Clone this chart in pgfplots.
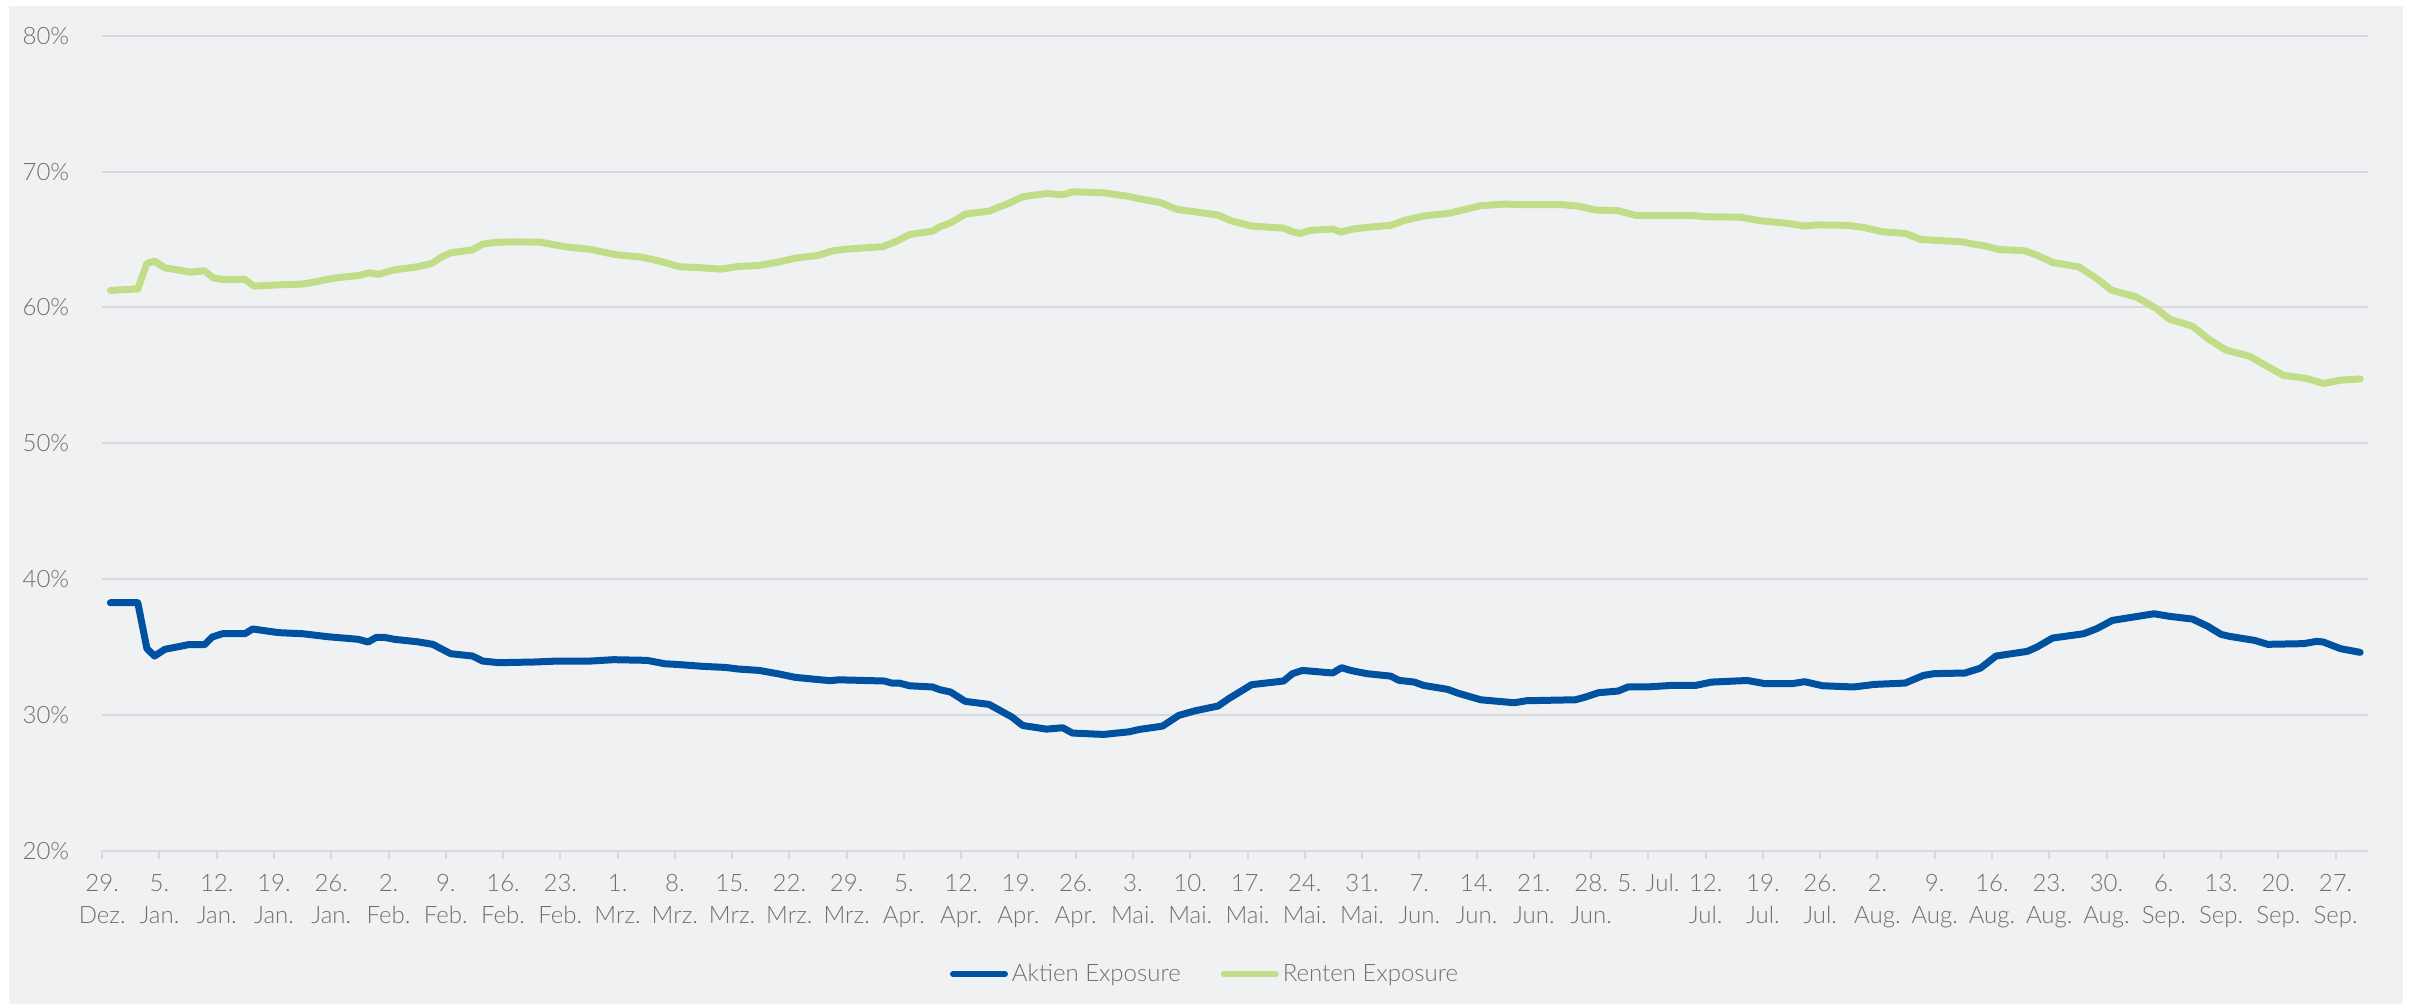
\documentclass[border=0pt]{standalone}
\usepackage{pgfplots}
\pgfplotsset{compat=1.18}
\usepackage{pgfplotstable}
\usepackage{fontspec}
\setmainfont{Lato}[UprightFont={* Light}]
\definecolor{bg}{RGB}{240,241,243}
\definecolor{gridgray}{RGB}{216,217,220}
\definecolor{txtgray}{RGB}{112,112,112}
\definecolor{aktien}{RGB}{0,82,160}
\definecolor{renten}{RGB}{194,221,136}

\pgfplotstableread{
day val
1 61.25
4.35 61.37
5.47 63.24
6.4 63.41
7.65 62.92
10.77 62.6
12.5 62.7
13.57 62.18
14.7 62.06
17.44 62.06
18.56 61.57
21.68 61.67
24.5 61.72
25.4 61.81
28.5 62.18
31.3 62.35
32.6 62.55
33.8 62.45
35.7 62.77
38.5 62.99
40.3 63.24
41.5 63.73
42.6 64.02
45.25 64.24
46.5 64.66
47.9 64.78
49.7 64.83
53.5 64.81
56.6 64.47
59.7 64.27
62.8 63.88
66.0 63.7
68.5 63.36
70.6 62.99
72.8 62.94
75.6 62.82
77.8 63.02
80.3 63.09
82.8 63.36
84.7 63.63
87.5 63.83
89.3 64.17
90.9 64.29
95.4 64.47
97.1 64.88
98.7 65.37
101.5 65.62
102.4 65.94
103.7 66.23
105.5 66.87
108.4 67.09
110.8 67.66
112.5 68.15
115.5 68.39
117.4 68.29
118.6 68.51
122.4 68.44
125.2 68.2
126.8 68.0
129.4 67.71
131.4 67.21
133.6 67.04
136.4 66.8
138.0 66.38
140.5 65.99
144.4 65.84
145.5 65.57
146.4 65.45
147.6 65.67
150.4 65.77
151.4 65.55
152.9 65.77
154.8 65.91
157.5 66.04
159.2 66.41
161.7 66.75
164.5 66.92
166.3 67.17
168.5 67.49
171.6 67.61
173.5 67.56
178.5 67.56
180.4 67.46
182.6 67.17
185.3 67.12
187.5 66.77
194.5 66.75
196.3 66.67
200.2 66.65
202.7 66.38
206.2 66.18
208.1 65.99
209.6 66.08
213.4 66.04
215.3 65.89
217.6 65.57
220.4 65.45
222.3 65.0
227.4 64.83
228.3 64.71
229.9 64.56
231.8 64.27
235.0 64.17
236.5 63.85
238.4 63.31
241.6 62.99
243.8 62.13
245.6 61.27
248.6 60.78
251.1 59.92
252.7 59.14
255.5 58.62
257.4 57.71
259.6 56.86
262.5 56.41
264.4 55.75
266.6 55.01
269.5 54.77
271.5 54.4
273.6 54.65
276 54.74
}\renten

\pgfplotstableread{
day val
1 38.27
4.35 38.27
5.47 34.89
6.4 34.35
7.65 34.84
10.5 35.18
12.5 35.18
13.45 35.75
14.7 35.99
17.44 35.99
18.4 36.34
21.55 36.07
24.5 35.99
27.6 35.77
31.3 35.58
32.5 35.38
33.5 35.72
34.5 35.72
35.7 35.58
38.5 35.4
40.4 35.21
42.6 34.52
45.25 34.35
46.5 33.98
48.5 33.86
52.9 33.91
55.7 33.98
59.7 33.98
62.5 34.08
66.6 34.03
68.76 33.78
70.3 33.73
73.4 33.59
76.2 33.51
77.8 33.39
80.3 33.29
82.8 33.02
84.7 32.78
89.0 32.53
90.0 32.6
95.6 32.51
96.5 32.36
97.4 32.36
98.7 32.16
101.5 32.07
102.4 31.87
103.7 31.7
105.5 31.01
108.4 30.79
111.2 29.86
112.5 29.24
115.4 28.97
117.4 29.07
118.6 28.68
122.4 28.58
125.5 28.77
126.8 28.95
129.6 29.19
131.6 29.98
133.6 30.32
136.4 30.67
137.7 31.21
140.5 32.24
144.4 32.51
145.5 33.05
146.7 33.29
150.4 33.1
151.5 33.49
152.6 33.29
154.6 33.05
157.5 32.87
158.5 32.56
160.4 32.43
161.5 32.19
164.5 31.89
165.7 31.62
168.5 31.13
172.6 30.91
174.1 31.06
180.1 31.13
181.3 31.33
182.9 31.65
185.3 31.77
186.5 32.07
188.8 32.07
191.9 32.19
194.8 32.19
196.7 32.43
201.1 32.55
203.3 32.31
206.5 32.31
208.1 32.46
210.3 32.16
214.1 32.07
216.6 32.26
220.4 32.36
222.6 32.92
223.9 33.05
227.7 33.1
229.6 33.46
231.5 34.35
235.3 34.69
236.5 35.01
238.4 35.67
242.2 35.99
243.8 36.36
245.7 36.97
250.8 37.46
252.7 37.27
255.5 37.07
257.4 36.53
259.0 35.94
260.0 35.8
263.1 35.5
264.7 35.21
269.1 35.26
270.7 35.43
271.5 35.38
273.6 34.89
276 34.62
}\aktien

\begin{document}
\begin{tikzpicture}
\useasboundingbox (-51.1pt,-78pt) rectangle (1154.9pt,425.5pt);
\fill[white] (-51.1pt,-78pt) rectangle (1154.9pt,425.5pt);
\fill[bg] (-46.6pt,-76.5pt) rectangle (1150.4pt,422.5pt);
\begin{axis}[
  at={(0pt,0pt)}, anchor=south west,
  scale only axis, width=1133.05pt, height=407.65pt,
  xmin=0, xmax=277, ymin=20, ymax=80,
  axis line style={draw=none},
  ytick={20,30,40,50,60,70,80},
  yticklabels={20\%,30\%,40\%,50\%,60\%,70\%,80\%},
  ymajorgrids,
  grid style={draw=gridgray, line width=1pt},
  ytick style={draw=none},
  xtick={0,7,...,273},
  xticklabels={{29.\\Dez.},{5.\\Jan.},{12.\\Jan.},{19.\\Jan.},{26.\\Jan.},{2.\\Feb.},{9.\\Feb.},{16.\\Feb.},{23.\\Feb.},{1.\\Mrz.},{8.\\Mrz.},{15.\\Mrz.},{22.\\Mrz.},{29.\\Mrz.},{5.\\Apr.},{12.\\Apr.},{19.\\Apr.},{26.\\Apr.},{3.\\Mai.},{10.\\Mai.},{17.\\Mai.},{24.\\Mai.},{31.\\Mai.},{7.\\Jun.},{14.\\Jun.},{21.\\Jun.},{28.\\Jun.},{5. Jul.},{12.\\Jul.},{19.\\Jul.},{26.\\Jul.},{2.\\Aug.},{9.\\Aug.},{16.\\Aug.},{23.\\Aug.},{30.\\Aug.},{6.\\Sep.},{13.\\Sep.},{20.\\Sep.},{27.\\Sep.}},
  xtick pos=bottom, ytick pos=left,
  tick align=outside, major tick length=4pt,
  xtick style={draw=gridgray, line width=1pt},
  tick label style={font=\fontsize{12}{16}\selectfont, text=txtgray},
  xticklabel style={align=center, yshift=-4pt},
  yticklabel style={xshift=-9pt},
  legend style={at={(0.4871,-0.1509)}, anchor=center, draw=none, fill=none,
    legend columns=2, font=\fontsize{12}{14}\selectfont, text=txtgray,
    /tikz/every even column/.append style={column sep=18pt}},
  legend image code/.code={\draw[#1, line width=3pt, line cap=round] (0pt,0pt) -- (26pt,0pt);},
  clip=false,
]
\addplot[aktien, line width=3.5pt, line join=round, line cap=round] table[x=day, y=val] {\aktien};
\addlegendentry{Aktien Exposure}
\addplot[renten, line width=3.5pt, line join=round, line cap=round] table[x=day, y=val] {\renten};
\addlegendentry{Renten Exposure}
\end{axis}
\end{tikzpicture}
\end{document}
